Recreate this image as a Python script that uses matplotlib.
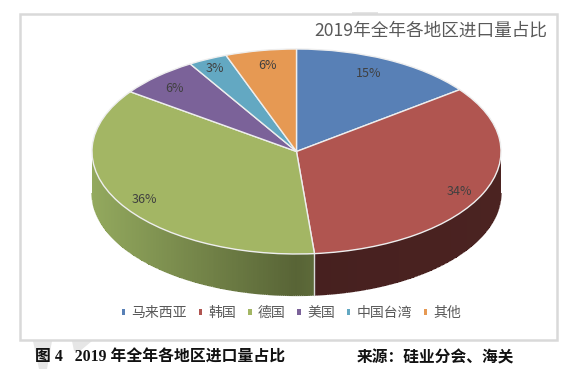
import numpy as np
import matplotlib
matplotlib.use("Agg")
import matplotlib.pyplot as plt
from matplotlib.patches import Rectangle, Polygon, Patch
from matplotlib.collections import LineCollection
from matplotlib.colors import to_rgb

categories = ["马来西亚", "韩国", "德国", "美国", "中国台湾", "其他"]
shares = [14.7, 33.9, 36.3, 6.4, 3.1, 5.6]
colors = ["#5880b6", "#b05550", "#a3b664", "#7b6299", "#63a8c2", "#e69953"]
side_light = ["#3f5c85", "#4b2321", "#93a95e", "#59466f", "#47798d", "#a66e3a"]
side_dark = ["#2c3f5c", "#46201f", "#586436", "#3d3050", "#31545f", "#734c28"]
title = "2019年全年各地区进口量占比"
caption_left = "图 4   2019 年全年各地区进口量占比"
caption_right = "来源：硅业分会、海关"

W, H = 578, 370
CX, CY, RX, RY, DEPTH = 296.5, 151.5, 204.5, 102.5, 41.5
label_nudges_px = [(-7, 2), (0, 4), (2, 4), (-1, 2), (-4, -3), (2, 2)]

plt.rcParams["font.family"] = ["Noto Sans CJK SC", "DejaVu Sans"]
fig = plt.figure(figsize=(W / 100, H / 100), dpi=100, facecolor="white")

def px_box(x0, y0, x1, y1, **kw):
    fig.add_artist(Rectangle((x0 / W, 1 - y1 / H), (x1 - x0) / W, (y1 - y0) / H,
                             transform=fig.transFigure, zorder=-2, **kw))

# faint scan watermark beneath the chart frame
for pts in ([(33, 341), (52, 341), (47, 369), (39, 369)],
            [(72, 341), (92, 341), (80, 351), (74, 351)]):
    fig.add_artist(Polygon([(x / W, 1 - y / H) for x, y in pts], closed=True,
                           transform=fig.transFigure, fc="#e6e6e6", ec="none", zorder=-3))
px_box(352, 12, 378, 14, fc="#e4e4e4", ec="none")
px_box(20, 14, 557, 340, fc="white", ec="#d9d9d9", lw=1.8)

ax = fig.add_axes([0, 0, 1, 1], facecolor="none")

# side wall of the disc, only where it faces the viewer (lower half)
edges = np.cumsum([0] + shares) / sum(shares) * 2 * np.pi
for i in range(len(shares)):
    a0, a1 = max(edges[i], np.pi / 2), min(edges[i + 1], 3 * np.pi / 2)
    if a1 <= a0:
        continue
    steps = np.linspace(a0, a1, 160)
    light, dark = np.array(to_rgb(side_light[i])), np.array(to_rgb(side_dark[i]))
    mids = (steps[:-1] + steps[1:]) / 2
    rgb = dark + np.outer(np.abs(np.sin(mids)), light - dark)
    X = np.vstack([np.sin(steps), np.sin(steps)])
    Y = np.vstack([np.cos(steps), np.cos(steps) - DEPTH / RY])
    ax.pcolormesh(X, Y, rgb[np.newaxis, :, :], shading="flat", zorder=1,
                  antialiased=False, linewidth=0)
    # smooth the stepped lower rim with an antialiased line in the same colours
    rim = np.column_stack([X[1], Y[1]])
    ax.add_collection(LineCollection(np.stack([rim[:-1], rim[1:]], axis=1),
                                     colors=rgb, linewidths=0.9, zorder=1.5))
seam = edges[2]
ax.plot([np.sin(seam)] * 2, [np.cos(seam), np.cos(seam) - DEPTH / RY],
        color="#d8d8d8", lw=1, zorder=2)

wedges, _, autotexts = ax.pie(
    shares, colors=colors, startangle=90, counterclock=False, radius=1,
    autopct="%.0f%%", pctdistance=0.87,
    wedgeprops=dict(edgecolor="#eeeeee", linewidth=1),
    textprops=dict(color="#404040", fontsize=9),
)
for w in wedges:
    w.set_zorder(3)
for t, (dx, dy) in zip(autotexts, label_nudges_px):
    x, y = t.get_position()
    t.set_position((x + dx / RX, y - dy / RY))
    t.set_zorder(4)

ax.set_aspect("auto")
ax.set_xlim(-CX / RX, (W - CX) / RX)
ax.set_ylim(-(H - CY) / RY, CY / RY)
ax.axis("off")

handles = [Patch(fc=c, ec="none", label=n) for c, n in zip(colors, categories)]
ax.legend(handles=handles, ncol=len(handles), loc="center",
          bbox_to_anchor=(291.5 / W, 1 - 313 / H), frameon=False,
          fontsize=10, labelcolor="#595959", handlelength=0.25, handleheight=0.3,
          handletextpad=0.45, columnspacing=0.85, borderpad=0)

fig.text(547 / W, 1 - 31 / H, title, ha="right", va="center", fontsize=12.7, color="#595959")
serif = ["Liberation Serif", "Noto Sans CJK SC"]
fig.text(35 / W, 1 - 358 / H, caption_left, ha="left", va="center", fontsize=11.4,
         fontweight="bold", family=serif, color="#111111")
fig.text(357 / W, 1 - 358 / H, caption_right, ha="left", va="center", fontsize=11.3,
         fontweight="bold", family=serif, color="#111111")

fig.savefig("out.png", dpi=100, facecolor="white")
